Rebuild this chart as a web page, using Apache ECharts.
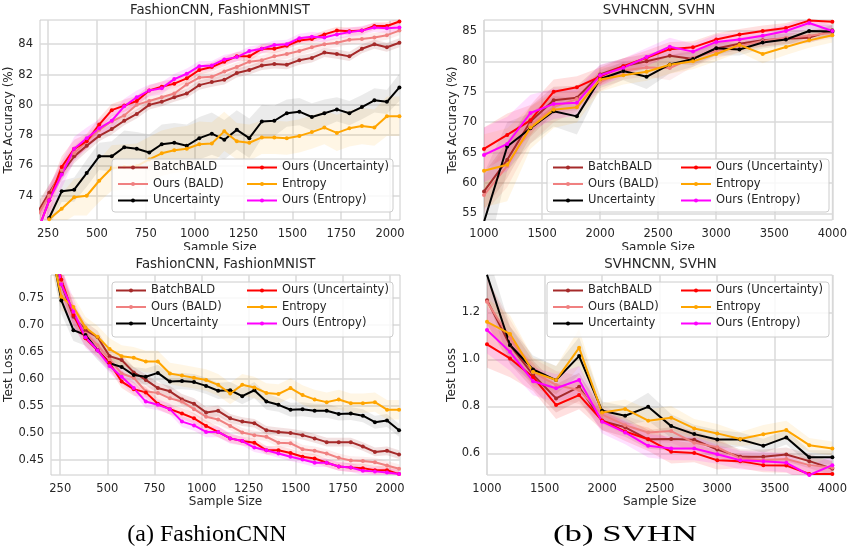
<!DOCTYPE html>
<html><head><meta charset="utf-8">
<script src="https://cdn.jsdelivr.net/npm/echarts@6/dist/echarts.min.js"></script>
<style>html,body{margin:0;padding:0;background:#fff}#c{width:850px;height:548px}</style>
</head><body><div id="c"></div><script>
// ---------- data ----------
const NAMES = ['BatchBALD','Ours (BALD)','Uncertainty','Ours (Uncertainty)','Entropy','Ours (Entropy)'];

const xFashion = [192,256,320,384,448,512,576,640,704,768,832,896,960,1024,1088,1152,1216,1280,1344,1408,1472,1536,1600,1664,1728,1792,1856,1920,1984,2048];
const xSVHN = [1000,1200,1400,1600,1800,2000,2200,2400,2600,2800,3000,3200,3400,3600,3800,4000];

const fXTicks = [250,500,750,1000,1250,1500,1750,2000];
const sXTicks = [1000,1500,2000,2500,3000,3500,4000];
const fAccTicks = [74,76,78,80,82,84];
const sAccTicks = [55,60,65,70,75,80,85];
const fLossTicks = [0.45,0.50,0.55,0.60,0.65,0.70,0.75];
const sLossTicks = [0.6,0.8,1.0,1.2];

// FashionMNIST test accuracy
const fAccBatchBALD = [72.8,74.2,75.5,76.6,77.3,77.95,78.4,78.95,79.4,80.0,80.2,80.5,80.75,81.3,81.5,81.65,82.1,82.3,82.6,82.7,82.65,82.95,83.1,83.45,83.35,83.2,83.7,84.0,83.8,84.1];
const fAccOursBALD = [72.6,74.0,75.7,76.8,77.6,78.35,78.9,79.3,80.0,80.25,80.5,80.75,81.35,81.8,81.85,82.2,82.5,82.85,82.95,83.2,83.35,83.55,83.8,84.0,84.1,84.3,84.35,84.45,84.6,84.9];
const fAccUnc = [null,72.53,74.29,74.4,75.5,76.6,76.6,77.2,77.1,76.85,77.4,77.5,77.3,77.8,78.1,77.7,78.35,77.8,78.9,78.95,79.45,79.55,79.2,79.45,79.7,79.45,79.85,80.3,80.2,81.15];
const fAccOursUnc = [71.5,73.7,75.9,77.1,77.6,78.7,79.65,79.95,80.25,80.95,81.2,81.4,81.75,82.3,82.5,82.85,83.2,83.2,83.7,83.7,83.9,84.25,84.35,84.65,84.9,84.85,84.9,85.2,85.2,85.5];
const fAccEnt = [null,72.45,73.15,73.9,74.0,74.99,75.83,75.9,75.95,76.4,76.8,77.0,77.1,77.4,77.45,78.25,77.6,77.5,77.85,77.85,77.8,77.95,78.2,78.5,78.15,78.45,78.6,78.5,79.25,79.25];
const fAccOursEnt = [71.5,73.7,75.4,77.1,77.8,78.45,78.95,79.9,80.5,80.95,81.1,81.7,82.05,82.55,82.6,83.0,83.15,83.55,83.7,83.95,84.0,84.4,84.5,84.45,84.65,84.8,84.9,85.1,85.05,85.1];
// half-widths of the shaded bands
const fAccBandBatchBALD = [0.6,0.55,0.5,0.45,0.4,0.35,0.35,0.3,0.3,0.3,0.3,0.3,0.3,0.3,0.3,0.3,0.3,0.3,0.3,0.3,0.3,0.3,0.3,0.3,0.3,0.3,0.3,0.3,0.3,0.3];
const fAccBandOursBALD = [0.8,0.7,0.6,0.5,0.45,0.4,0.4,0.35,0.35,0.35,0.35,0.35,0.3,0.3,0.3,0.3,0.3,0.3,0.3,0.3,0.3,0.3,0.3,0.3,0.3,0.3,0.3,0.3,0.3,0.3];
const fAccBandUnc = [null,0.6,0.7,0.8,0.9,0.9,1.0,1.1,1.1,1.2,1.3,1.3,1.4,1.4,1.4,1.3,1.3,1.3,1.1,1.0,0.9,0.9,0.9,0.9,0.8,0.8,0.8,0.8,0.8,0.9];
const fAccBandOursUnc = [0.8,0.8,0.7,0.6,0.5,0.45,0.4,0.4,0.35,0.35,0.35,0.3,0.3,0.3,0.3,0.3,0.3,0.3,0.3,0.3,0.25,0.25,0.25,0.25,0.25,0.25,0.25,0.25,0.25,0.25];
const fAccBandEnt = [null,0.8,1.0,1.2,1.3,1.4,1.5,1.5,1.5,1.5,1.5,1.5,1.5,1.5,1.4,1.3,1.2,1.2,1.1,1.1,1.1,1.1,1.1,1.1,1.2,1.2,1.2,1.2,1.3,1.3];
const fAccBandOursEnt = [1.0,1.0,0.9,0.8,0.7,0.6,0.55,0.5,0.45,0.4,0.4,0.35,0.35,0.35,0.3,0.3,0.3,0.3,0.3,0.3,0.3,0.3,0.3,0.3,0.3,0.3,0.3,0.3,0.3,0.3];

// SVHN test accuracy
const sAccBatchBALD = [58.6,63.8,70.1,73.6,74.0,77.85,79.2,80.0,80.9,80.4,82.1,82.9,83.45,83.7,83.9,85.1];
const sAccOursBALD = [58.0,62.8,69.5,72.5,73.8,76.6,78.5,79.0,78.9,80.6,81.7,82.5,83.35,83.9,84.2,84.75];
const sAccUnc = [53.6,66.0,69.0,71.8,70.95,77.1,78.4,77.45,79.5,80.4,82.15,81.95,83.1,83.6,85.0,84.9];
const sAccOursUnc = [65.6,67.9,70.3,75.0,75.75,77.5,79.2,80.6,82.0,82.3,83.6,84.4,85.0,85.5,86.7,86.5];
const sAccEnt = [62.0,63.0,69.1,72.05,72.45,77.0,77.7,78.3,79.45,80.0,81.2,82.7,81.2,82.35,83.45,84.3];
const sAccOursEnt = [64.6,66.4,71.5,73.0,73.2,77.7,78.95,80.7,82.4,81.6,83.2,83.6,84.2,85.0,86.3,85.0];
const sAccBandBatchBALD = [3.0,3.0,2.5,2.2,2.0,1.5,1.3,1.2,1.2,1.0,1.0,1.0,1.0,0.9,0.9,0.9];
const sAccBandOursBALD = [3.0,3.5,3.0,2.5,2.0,1.5,1.5,1.5,2.0,1.5,1.2,1.0,1.0,1.0,1.0,1.0];
const sAccBandUnc = [8.0,4.0,2.5,2.5,3.0,1.5,1.5,2.0,1.5,1.3,1.2,1.0,1.0,1.0,1.0,1.0];
const sAccBandOursUnc = [3.5,3.5,2.5,2.0,1.8,1.5,1.3,1.2,1.2,1.0,1.0,0.9,0.9,0.8,0.8,0.8];
const sAccBandEnt = [6.0,6.0,3.5,3.0,2.5,2.0,1.5,1.5,1.5,1.3,1.2,1.2,1.5,1.3,1.2,1.2];
const sAccBandOursEnt = [4.5,4.5,3.0,2.5,2.2,1.8,1.5,1.5,1.5,1.3,1.2,1.0,1.0,1.0,0.9,0.9];

// FashionMNIST test loss
const fLossBatchBALD = [0.87,0.775,0.715,0.690,0.677,0.642,0.635,0.612,0.598,0.583,0.577,0.562,0.554,0.538,0.541,0.527,0.521,0.518,0.505,0.502,0.500,0.496,0.490,0.483,0.483,0.483,0.475,0.465,0.467,0.460];
const fLossOursBALD = [0.87,0.780,0.720,0.684,0.662,0.636,0.610,0.602,0.577,0.574,0.564,0.558,0.544,0.530,0.525,0.513,0.501,0.496,0.493,0.482,0.481,0.470,0.467,0.462,0.454,0.449,0.448,0.446,0.440,0.434];
const fLossUnc = [0.86,0.745,0.690,0.681,0.653,0.629,0.622,0.607,0.604,0.611,0.595,0.596,0.594,0.587,0.578,0.579,0.568,0.579,0.558,0.552,0.543,0.544,0.541,0.541,0.535,0.536,0.532,0.520,0.523,0.505];
const fLossOursUnc = [0.90,0.783,0.718,0.675,0.653,0.629,0.595,0.581,0.575,0.554,0.544,0.536,0.527,0.513,0.502,0.490,0.485,0.482,0.468,0.468,0.463,0.456,0.453,0.445,0.438,0.436,0.435,0.431,0.431,0.424];
const fLossEnt = [0.85,0.752,0.733,0.695,0.678,0.655,0.642,0.639,0.632,0.632,0.610,0.606,0.602,0.598,0.589,0.573,0.589,0.584,0.574,0.572,0.583,0.570,0.562,0.557,0.562,0.555,0.555,0.557,0.543,0.543];
const fLossOursEnt = [0.90,0.775,0.724,0.677,0.653,0.624,0.604,0.583,0.558,0.552,0.544,0.521,0.514,0.502,0.502,0.490,0.485,0.473,0.468,0.462,0.456,0.451,0.445,0.445,0.438,0.436,0.430,0.429,0.427,0.424];
const fLossBandBatchBALD = [0.03,0.025,0.02,0.015,0.012,0.01,0.01,0.01,0.01,0.01,0.01,0.01,0.01,0.01,0.01,0.008,0.008,0.008,0.008,0.008,0.008,0.008,0.008,0.008,0.008,0.008,0.008,0.008,0.008,0.008];
const fLossBandOursBALD = [0.03,0.025,0.02,0.015,0.012,0.01,0.01,0.01,0.01,0.01,0.01,0.01,0.01,0.01,0.01,0.008,0.008,0.008,0.008,0.008,0.008,0.008,0.008,0.008,0.008,0.008,0.008,0.008,0.008,0.008];
const fLossBandUnc = [0.03,0.025,0.02,0.02,0.018,0.015,0.015,0.015,0.015,0.015,0.015,0.015,0.015,0.015,0.015,0.015,0.015,0.015,0.015,0.013,0.013,0.013,0.013,0.013,0.012,0.012,0.012,0.012,0.012,0.012];
const fLossBandOursUnc = [0.03,0.025,0.02,0.015,0.012,0.012,0.012,0.012,0.01,0.01,0.01,0.01,0.01,0.01,0.01,0.008,0.008,0.008,0.008,0.008,0.008,0.008,0.008,0.008,0.008,0.008,0.008,0.008,0.008,0.008];
const fLossBandEnt = [0.03,0.025,0.02,0.02,0.02,0.02,0.02,0.02,0.02,0.02,0.02,0.02,0.02,0.02,0.02,0.02,0.02,0.02,0.018,0.018,0.018,0.018,0.018,0.018,0.018,0.018,0.018,0.018,0.018,0.018];
const fLossBandOursEnt = [0.035,0.03,0.025,0.02,0.015,0.013,0.013,0.012,0.012,0.01,0.01,0.01,0.01,0.01,0.01,0.01,0.008,0.008,0.008,0.008,0.008,0.008,0.008,0.008,0.008,0.008,0.008,0.008,0.008,0.008];

// SVHN test loss
const sLossBatchBALD = [1.252,1.06,0.935,0.834,0.883,0.738,0.711,0.660,0.661,0.658,0.616,0.586,0.586,0.595,0.567,0.535];
const sLossOursBALD = [1.245,1.09,0.945,0.891,0.87,0.765,0.720,0.689,0.695,0.645,0.626,0.579,0.571,0.576,0.550,0.540];
const sLossUnc = [1.36,1.061,0.957,0.912,1.014,0.781,0.760,0.798,0.716,0.682,0.659,0.659,0.632,0.668,0.583,0.583];
const sLossOursUnc = [1.064,1.004,0.925,0.806,0.848,0.740,0.693,0.660,0.607,0.602,0.571,0.567,0.550,0.548,0.512,0.512];
const sLossEnt = [1.160,1.108,0.947,0.912,1.049,0.774,0.789,0.739,0.752,0.706,0.685,0.661,0.681,0.699,0.635,0.621];
const sLossOursEnt = [1.125,1.032,0.907,0.877,0.912,0.735,0.689,0.632,0.621,0.621,0.596,0.571,0.567,0.560,0.508,0.550];
const sLossBandBatchBALD = [0.10,0.08,0.06,0.06,0.06,0.04,0.04,0.04,0.05,0.04,0.04,0.03,0.03,0.03,0.03,0.03];
const sLossBandOursBALD = [0.10,0.08,0.06,0.06,0.06,0.04,0.04,0.04,0.05,0.04,0.04,0.03,0.03,0.03,0.03,0.03];
const sLossBandUnc = [0.10,0.08,0.06,0.06,0.08,0.04,0.04,0.06,0.05,0.04,0.04,0.03,0.03,0.03,0.03,0.03];
const sLossBandOursUnc = [0.10,0.08,0.06,0.06,0.06,0.04,0.04,0.05,0.05,0.04,0.04,0.03,0.03,0.03,0.03,0.03];
const sLossBandEnt = [0.10,0.08,0.06,0.06,0.08,0.04,0.04,0.05,0.05,0.04,0.04,0.03,0.04,0.04,0.03,0.03];
const sLossBandOursEnt = [0.10,0.08,0.06,0.06,0.06,0.05,0.05,0.05,0.05,0.05,0.04,0.04,0.04,0.04,0.04,0.04];

// ---------- style ----------
const COLORS = ['#a52a2a','#f08080','#000000','#ff0000','#ffa500','#ff00ff'];
const BAND_OPACITY = [0.14,0.14,0.08,0.12,0.1,0.12];
const FONT = 'DejaVu Sans';
const TXT = '#262626';

const series = [];
function bandSeries(gi, xs, y, hw, k) {
  return {type:'custom', xAxisIndex:gi, yAxisIndex:gi, silent:true, z:1, animation:false,
    data:[[xs[0], y[0] == null ? 0 : y[0]]],
    encode:{x:0, y:1},
    renderItem: function (params, api) {
      const up = [], lo = [];
      for (let i = 0; i < xs.length; i++) {
        if (y[i] == null) continue;
        up.push(api.coord([xs[i], y[i] + hw[i]]));
        lo.push(api.coord([xs[i], y[i] - hw[i]]));
      }
      const cs = params.coordSys;
      return {type:'polygon', shape:{points: up.concat(lo.reverse())},
        style:{fill:COLORS[k], opacity:BAND_OPACITY[k]},
        clipPath:{type:'rect', shape:{x:cs.x, y:cs.y, width:cs.width, height:cs.height}}};
    }};
}
function addPlot(gi, xs, ys, hws) {
  ys.forEach((y, k) => series.push(bandSeries(gi, xs, y, hws[k], k)));
  ys.forEach((y, k) => {
    series.push({type:'line', name:NAMES[k], xAxisIndex:gi, yAxisIndex:gi,
      data: xs.map((x,i)=>[x, y[i]]),
      symbol:'circle', symbolSize:4, color:COLORS[k],
      lineStyle:{width:2, color:COLORS[k]}, itemStyle:{color:COLORS[k]},
      z:3, animation:false});
  });
}
addPlot(0, xFashion, [fAccBatchBALD,fAccOursBALD,fAccUnc,fAccOursUnc,fAccEnt,fAccOursEnt],
  [fAccBandBatchBALD,fAccBandOursBALD,fAccBandUnc,fAccBandOursUnc,fAccBandEnt,fAccBandOursEnt]);
addPlot(1, xSVHN, [sAccBatchBALD,sAccOursBALD,sAccUnc,sAccOursUnc,sAccEnt,sAccOursEnt],
  [sAccBandBatchBALD,sAccBandOursBALD,sAccBandUnc,sAccBandOursUnc,sAccBandEnt,sAccBandOursEnt]);
addPlot(2, xFashion, [fLossBatchBALD,fLossOursBALD,fLossUnc,fLossOursUnc,fLossEnt,fLossOursEnt],
  [fLossBandBatchBALD,fLossBandOursBALD,fLossBandUnc,fLossBandOursUnc,fLossBandEnt,fLossBandOursEnt]);
addPlot(3, xSVHN, [sLossBatchBALD,sLossOursBALD,sLossUnc,sLossOursUnc,sLossEnt,sLossOursEnt],
  [sLossBandBatchBALD,sLossBandOursBALD,sLossBandUnc,sLossBandOursUnc,sLossBandEnt,sLossBandOursEnt]);

const gridDefs = [
  {left:40, top:20, width:360, height:200},
  {left:484, top:20, width:350, height:200},
  {left:51, top:275, width:349, height:200},
  {left:487, top:275, width:347, height:200}
];
const grids = gridDefs.map(g => Object.assign({show:true, borderColor:'#cccccc', borderWidth:1, backgroundColor:'#ffffff'}, g));

function xAx(gi, min, max, ticks, gap) {
  return {type:'value', gridIndex:gi, min, max, name:'Sample Size', nameLocation:'middle', nameGap:gap,
    nameTextStyle:{fontSize:12, color:TXT, fontFamily:FONT},
    axisLine:{show:false}, axisTick:{show:false, customValues:ticks},
    axisLabel:{customValues:ticks, fontSize:11.5, color:TXT, fontFamily:FONT, margin:8, formatter: v => String(v)},
    splitLine:{show:true, lineStyle:{color:'#dadada', width:1.5}}};
}
function yAx(gi, min, max, ticks, name, gap, dec) {
  return {type:'value', gridIndex:gi, min, max, name, nameLocation:'middle', nameGap:gap,
    nameTextStyle:{fontSize:12, color:TXT, fontFamily:FONT},
    axisLine:{show:false}, axisTick:{show:false, customValues:ticks},
    axisLabel:{customValues:ticks, fontSize:11.5, color:TXT, fontFamily:FONT, margin:7,
      formatter: v => dec ? Number(v).toFixed(dec) : String(v)},
    splitLine:{show:true, lineStyle:{color:'#dadada', width:1.5}}};
}

const xAxes = [
  xAx(0, 209, 2051, fXTicks, 22),
  xAx(1, 1000, 4000, sXTicks, 22),
  xAx(2, 201, 2053, fXTicks, 20),
  xAx(3, 1000, 4000, sXTicks, 20)
];
const yAxes = [
  yAx(0, 72.4, 85.6, fAccTicks, 'Test Accuracy (%)', 19, 0),
  yAx(1, 53.9, 86.8, sAccTicks, 'Test Accuracy (%)', 20, 0),
  yAx(2, 0.4223, 0.792, fLossTicks, 'Test Loss', 30, 2),
  yAx(3, 0.508, 1.359, sLossTicks, 'Test Loss', 24, 1)
];

const titleDefs = [
  {text:'FashionCNN, FashionMNIST', x:220, y:4},
  {text:'SVHNCNN, SVHN', x:659, y:4},
  {text:'FashionCNN, FashionMNIST', x:225.5, y:258},
  {text:'SVHNCNN, SVHN', x:660.5, y:258}
];
const titles = titleDefs.map(t => ({text:t.text, left:t.x, top:t.y, textAlign:'center', padding:0,
  textStyle:{fontSize:13.3, fontWeight:'normal', color:TXT, fontFamily:FONT}}));

const legendPos = [
  {c1:117, c2:246, top:161.5},
  {c1:552, c2:680, top:161.5},
  {c1:115, c2:246, top:284.5},
  {c1:552, c2:680, top:284.5}
];
const legends = [];
legendPos.forEach(p => {
  [[NAMES.slice(0,3), p.c1],[NAMES.slice(3), p.c2]].forEach(([names, left]) => {
    legends.push({data:names, orient:'vertical', left, top:p.top, padding:0, itemWidth:30, itemHeight:5,
      itemGap:4.5, selectedMode:false, z:20,
      textStyle:{fontSize:11.5, color:TXT, fontFamily:FONT, padding:[0,0,0,0]}});
  });
});

const boxes = [
  [112,159,281,53],[547,159,282,53],[112,282,281,55],[547,282,282,55]
];
const graphics = boxes.map(b => ({type:'rect', z:10, shape:{x:b[0], y:b[1], width:b[2], height:b[3], r:3},
  style:{fill:'rgba(255,255,255,0.8)', stroke:'#cccccc', lineWidth:1}}));
graphics.push({type:'rect', z:30, shape:{x:0, y:250, width:850, height:6}, style:{fill:'#ffffff'}});
graphics.push({type:'text', z:30, x:207, y:535, style:{text:'(a) FashionCNN', fill:'#000', font:'24px "Liberation Serif", "Times New Roman", serif', textAlign:'center', textVerticalAlign:'middle'}});
graphics.push({type:'text', z:30, x:625, y:535, scaleX:1.45, style:{text:'(b) SVHN', fill:'#000', font:'24px "Liberation Serif", "Times New Roman", serif', textAlign:'center', textVerticalAlign:'middle'}});

const chart = echarts.init(document.getElementById('c'), null, {renderer:'canvas'});
chart.setOption({
  animation:false,
  backgroundColor:'#ffffff',
  title: titles,
  grid: grids,
  xAxis: xAxes,
  yAxis: yAxes,
  legend: legends,
  graphic: graphics,
  series
});
</script></body></html>
